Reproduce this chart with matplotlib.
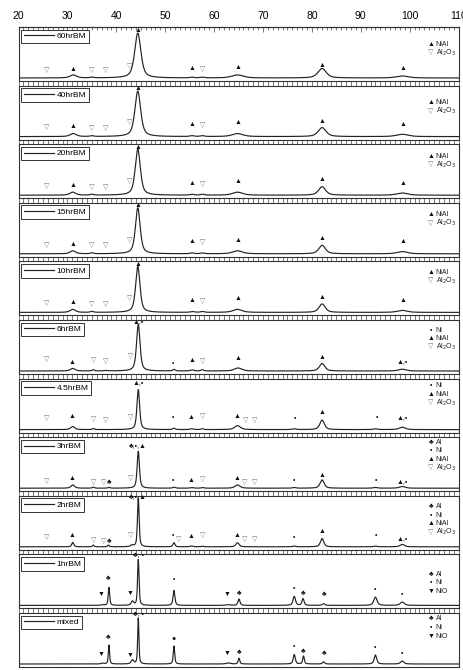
#!/usr/bin/env python3
"""
Stacked XRD patterns of NiAl powders vs. ball-milling time.
"""

import numpy as np
import matplotlib
matplotlib.use('Agg')
import matplotlib.pyplot as plt
from matplotlib.ticker import MultipleLocator

plt.rcParams['font.family'] = ['Liberation Sans', 'DejaVu Sans']

# ---- data ----------------------------------------------------------------
# peaks: (2theta, height above baseline, FWHM), heights in panel units
SAMPLES = ["60hrBM", "40hrBM", "20hrBM", "15hrBM", "10hrBM", "6hrBM",
           "4.5hrBM", "3hrBM", "2hrBM", "1hrBM", "mixed"]

PEAKS_60HR = [(31.2, 3.0, 1.6), (35.0, 0.8, 0.8), (44.4, 45.0, 1.5), (55.5, 0.7, 1.0),
              (57.6, 0.7, 1.0), (64.8, 3.0, 2.8), (82.1, 9.5, 2.0), (98.5, 2.0, 3.0)]
PEAKS_40HR = [(31.2, 3.0, 1.5), (35.0, 0.8, 0.8), (44.4, 45.5, 1.4), (55.5, 0.8, 1.0),
              (57.6, 0.8, 1.0), (64.8, 3.0, 2.6), (82.1, 9.0, 1.9), (98.5, 2.3, 2.8)]
PEAKS_20HR = [(31.1, 3.0, 1.4), (35.0, 0.8, 0.8), (44.4, 46.0, 1.25), (55.5, 0.8, 0.9),
              (57.6, 0.8, 0.9), (64.8, 3.0, 2.4), (82.1, 8.5, 1.7), (98.5, 2.2, 2.6)]
PEAKS_15HR = [(31.1, 3.0, 1.3), (35.0, 0.9, 0.7), (44.4, 46.0, 1.15), (55.5, 0.8, 0.9),
              (57.6, 0.8, 0.9), (64.8, 3.0, 2.3), (82.1, 8.5, 1.6), (98.5, 2.2, 2.5)]
PEAKS_10HR = [(31.1, 3.0, 1.3), (35.0, 0.9, 0.7), (44.4, 46.0, 1.05), (55.5, 0.8, 0.9),
              (57.6, 0.8, 0.9), (64.8, 3.0, 2.2), (82.1, 8.5, 1.5), (98.5, 2.0, 2.4)]
PEAKS_6HR = [(31.1, 2.5, 1.2), (35.3, 1.3, 0.5), (37.8, 0.4, 0.8), (44.5, 46.5, 0.85),
             (51.8, 1.5, 0.6), (55.5, 1.0, 0.9), (57.6, 1.3, 0.6), (64.9, 3.0, 1.8),
             (82.1, 7.5, 1.3), (98.5, 1.8, 1.8)]
PEAKS_4_5HR = [(31.1, 3.0, 1.0), (35.3, 1.0, 0.5), (44.5, 40.0, 0.65), (51.8, 1.3, 0.6),
               (55.4, 0.8, 0.8), (57.6, 0.8, 0.6), (64.8, 4.0, 1.4), (76.4, 0.8, 0.8),
               (82.1, 9.5, 1.1), (93.0, 0.8, 1.0), (98.5, 2.3, 1.5)]
PEAKS_3HR = [(31.1, 3.3, 0.9), (35.3, 1.0, 0.5), (38.5, 0.8, 0.5), (44.5, 37.0, 0.55),
             (51.8, 1.0, 0.6), (55.4, 0.6, 0.8), (57.6, 0.6, 0.6), (64.8, 3.3, 1.2),
             (76.4, 0.7, 0.8), (82.1, 8.3, 1.0), (93.0, 0.7, 1.0), (98.5, 1.7, 1.4)]
PEAKS_2HR = [(31.1, 4.3, 0.5), (35.3, 1.7, 0.4), (38.4, 1.7, 0.4), (43.2, 1.5, 0.6),
             (44.5, 49.0, 0.4), (51.8, 4.0, 0.5), (55.4, 0.8, 0.7), (57.6, 0.6, 0.5),
             (64.8, 4.0, 0.8), (76.4, 0.7, 0.7), (82.1, 8.3, 0.8), (93.0, 0.7, 0.8),
             (98.5, 2.3, 1.1)]
PEAKS_1HR = [(37.2, 0.6, 0.6), (38.5, 18.0, 0.35), (43.3, 4.0, 0.6), (44.5, 46.0, 0.35),
             (51.8, 15.0, 0.45), (62.9, 0.7, 1.0), (65.1, 6.3, 0.5), (76.4, 9.0, 0.6),
             (78.2, 6.7, 0.5), (82.4, 1.7, 0.6), (93.0, 8.3, 0.8), (98.5, 3.3, 1.0)]
PEAKS_MIXED = [(37.2, 0.8, 0.6), (38.5, 19.0, 0.3), (43.3, 4.0, 0.6), (44.5, 46.0, 0.3),
               (51.8, 18.0, 0.35), (62.9, 1.0, 1.0), (65.1, 5.7, 0.4), (76.4, 9.5, 0.5),
               (78.3, 8.0, 0.4), (82.4, 2.3, 0.5), (93.0, 9.0, 0.6), (98.5, 3.0, 0.8)]

# phase marks: (2theta, height, symbol)
MARKS_60HR = [(25.7, 7.7, '▽'), (31.1, 8.3, '▲'), (35.0, 7.7, '▽'), (37.8, 7.7, '▽'),
              (42.8, 11.7, '▽'), (44.4, 47.5, '▲'), (55.5, 9.3, '▲'), (57.7, 8.3, '▽'),
              (64.9, 10.7, '▲'), (82.1, 12.7, '▲'), (98.6, 9.0, '▲')]
MARKS_BM = [(25.7, 8.7, '▽'), (31.1, 9.7, '▲'), (35.0, 8.0, '▽'), (37.8, 8.0, '▽'),
            (42.8, 13.7, '▽'), (44.4, 48.0, '▲'), (55.5, 12.0, '▲'), (57.7, 11.0, '▽'),
            (64.9, 13.7, '▲'), (82.1, 15.3, '▲'), (98.6, 12.0, '▲')]
MARKS_6HR = [(25.7, 11.3, '▽'), (31.0, 9.0, '▲'), (35.3, 10.7, '▽'), (37.9, 9.0, '▽'),
             (43.0, 14.0, '▽'), (44.5, 48.5, '▲,•'), (51.6, 8.0, '•'), (55.5, 10.7, '▲'),
             (57.7, 9.0, '▽'), (64.9, 12.3, '▲'), (82.1, 13.3, '▲'), (98.5, 8.0, '▲,•')]
MARKS_4_5HR = [(25.7, 10.7, '▽'), (31.0, 13.3, '▲'), (35.3, 9.7, '▽'), (37.8, 9.0, '▽'),
               (43.0, 12.3, '▽'), (44.5, 46.0, '▲,•'), (51.6, 11.7, '•'), (55.3, 11.7, '▲'),
               (57.6, 13.0, '▽'), (64.7, 13.3, '▲'), (66.5, 9.0, '▽'), (68.3, 9.0, '▽'),
               (76.5, 11.3, '•'), (82.0, 17.3, '▲'), (93.3, 12.3, '•'), (98.5, 10.7, '▲,•')]
MARKS_3HR = [(25.7, 6.7, '▽'), (31.0, 9.3, '▲'), (35.3, 5.7, '▽'), (37.4, 5.7, '▽'),
             (38.6, 5.7, '♣'), (43.0, 9.3, '▽'), (44.4, 42.0, '♣,•,▲'), (51.6, 7.3, '•'),
             (55.3, 7.3, '▲'), (57.6, 9.0, '▽'), (64.7, 9.3, '▲'), (66.3, 5.7, '▽'),
             (68.3, 5.7, '▽'), (76.3, 7.7, '•'), (82.0, 12.3, '▲'), (93.1, 7.7, '•'),
             (98.5, 6.0, '▲,•')]
MARKS_2HR = [(25.7, 9.0, '▽'), (31.0, 11.7, '▲'), (35.3, 6.7, '▽'), (37.4, 5.7, '▽'),
             (38.6, 5.7, '♣'), (43.0, 11.0, '▽'), (44.4, 49.0, '♣,•,▲'), (51.6, 11.0, '•'),
             (52.8, 7.7, '▽'), (55.3, 10.0, '▲'), (57.6, 11.0, '▽'), (64.7, 11.7, '▲'),
             (66.3, 7.7, '▽'), (68.3, 7.7, '▽'), (76.3, 9.0, '•'), (82.0, 15.7, '▲'),
             (93.1, 11.0, '•'), (98.5, 7.3, '▲,•')]
MARKS_1HR = [(36.8, 10.7, '▼'), (38.3, 27.3, '♣'), (42.8, 12.3, '▼'), (44.5, 49.5, '♣, •'),
             (51.7, 25.7, '•'), (62.7, 10.7, '▼'), (65.1, 11.7, '♣'), (76.4, 16.7, '•'),
             (78.2, 12.3, '♣'), (82.5, 10.7, '♣'), (92.9, 16.3, '•'), (98.5, 10.7, '•')]
MARKS_MIXED = [(36.8, 10.0, '▼'), (38.4, 26.7, '♣'), (42.8, 9.0, '▼'), (44.5, 49.0, '♣, •'),
               (51.7, 25.0, '●'), (62.7, 10.7, '▼'), (65.1, 11.7, '♣'), (76.4, 17.7, '•'),
               (78.2, 12.3, '♣'), (82.5, 10.7, '♣'), (92.9, 16.7, '•'), (98.5, 10.7, '•')]

# phase keys at the right of each panel
KEY_NIAL = [('▲', 'NiAl'), ('▽', 'Al$_2$O$_3$')]
KEY_NI_NIAL = [('•', 'Ni'), ('▲', 'NiAl'), ('▽', 'Al$_2$O$_3$')]
KEY_AL_NI_NIAL = [('♣', 'Al'), ('•', 'Ni'), ('▲', 'NiAl'), ('▽', 'Al$_2$O$_3$')]
KEY_AL_NI_NIO = [('♣', 'Al'), ('•', 'Ni'), ('▼', 'NiO')]

PANELS = [
    (PEAKS_60HR, MARKS_60HR, KEY_NIAL),
    (PEAKS_40HR, MARKS_BM, KEY_NIAL),
    (PEAKS_20HR, MARKS_BM, KEY_NIAL),
    (PEAKS_15HR, MARKS_BM, KEY_NIAL),
    (PEAKS_10HR, MARKS_BM, KEY_NIAL),
    (PEAKS_6HR, MARKS_6HR, KEY_NI_NIAL),
    (PEAKS_4_5HR, MARKS_4_5HR, KEY_NI_NIAL),
    (PEAKS_3HR, MARKS_3HR, KEY_AL_NI_NIAL),
    (PEAKS_2HR, MARKS_2HR, KEY_AL_NI_NIAL),
    (PEAKS_1HR, MARKS_1HR, KEY_AL_NI_NIO),
    (PEAKS_MIXED, MARKS_MIXED, KEY_AL_NI_NIO),
]

# ---- layout (pixels) -----------------------------------------------------
W, H = 463, 670
LEFT, RIGHT = 18.5, 458.5
TOP = 27.0
PANEL_H = 54.0
GAP = 4.6
KEY_TOP = [17, 17, 12, 12, 11, 10, 7, 5, 11, 20, 6]   # px below panel top


def profile(x, peaks):
    """pseudo-Voigt sum built from the read peak list"""
    y = np.zeros_like(x)
    for c, h, w in peaks:
        u = (x - c) / (w / 2.0)
        y += h * (0.6 / (1 + u ** 2) + 0.4 * np.exp(-np.log(2) * u ** 2))
    return y


def main():
    fig = plt.figure(figsize=(W / 100, H / 100), dpi=100)
    x = np.linspace(20, 110, 4000)
    n = len(PANELS)

    for i, (peaks, marks, key) in enumerate(PANELS):
        top = TOP + i * (PANEL_H + GAP)
        ax = fig.add_axes([LEFT / W, 1 - (top + PANEL_H) / H,
                           (RIGHT - LEFT) / W, PANEL_H / H])
        ax.plot(x, profile(x, peaks), color='#222222', lw=0.85, label=SAMPLES[i])
        ax.set_xlim(20, 110)
        ax.set_ylim(-3, 51)
        ax.set_yticks([])

        ax.xaxis.set_major_locator(MultipleLocator(10))
        ax.xaxis.set_minor_locator(MultipleLocator(1))
        ax.tick_params(axis='x', which='both', direction='out', top=False,
                       bottom=(i < n - 1), labelbottom=False,
                       length=3.3, width=0.5, color='#444444')
        for sp in ax.spines.values():
            sp.set_linewidth(0.8)
            sp.set_color('#333333')

        if i == 0:
            sec = ax.secondary_xaxis('top')
            sec.xaxis.set_major_locator(MultipleLocator(10))
            sec.xaxis.set_minor_locator(MultipleLocator(1))
            sec.tick_params(which='both', direction='in', width=0.5,
                            color='#444444', labelsize=7.5, pad=4)
            sec.tick_params(which='major', length=3.5)
            sec.tick_params(which='minor', length=2.2)
            sec.spines['top'].set_linewidth(0.8)

        for mx, my, sym in marks:
            color = '#777777' if sym == '▽' else '#111111'
            ax.text(mx, my, sym, ha='center', va='center', fontsize=5, color=color)

        for k, (sym, name) in enumerate(key):
            yk = 51 - (KEY_TOP[i] + k * 8.5)
            color = '#777777' if sym == '▽' else '#111111'
            ax.text(104.4, yk, sym, ha='center', va='center', fontsize=5, color=color)
            ax.text(105.3, yk, name, ha='left', va='center', fontsize=5, color='#222222')

        leg = ax.legend(loc='upper left', fontsize=6, fancybox=False, edgecolor='#333333',
                        framealpha=1, handlelength=3.6, handletextpad=0.3,
                        borderpad=0.35, borderaxespad=0.3)
        leg.get_frame().set_linewidth(0.7)

    fig.savefig('out.png', dpi=100)


if __name__ == "__main__":
    main()
